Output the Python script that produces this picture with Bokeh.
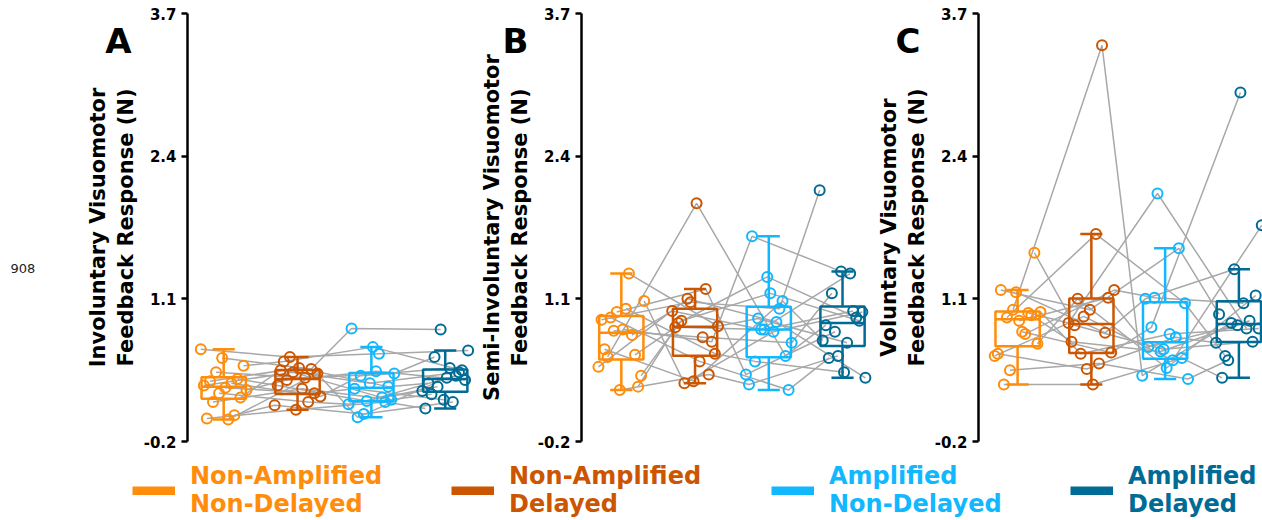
from bokeh.plotting import figure
from bokeh.layouts import column, row
from bokeh.models import Range1d, FixedTicker, Label, Legend, LegendItem
from bokeh.embed import file_html
from bokeh.resources import INLINE
import numpy as np

# ---------------- data ----------------
CONDITIONS = ["Non-Amplified\nNon-Delayed", "Non-Amplified\nDelayed",
              "Amplified\nNon-Delayed", "Amplified\nDelayed"]
COLORS = ["#ff8c0a", "#cc5500", "#12b8ff", "#006b94"]
Y_TICKS = [-0.2, 1.1, 2.4, 3.7]
Y_TICK_LABELS = ["-0.2", "1.1", "2.4", "3.7"]
PANEL_LETTERS = ["A", "B", "C"]
Y_LABELS = ["Involuntary Visuomotor\nFeedback Response (N)",
            "Semi-Involuntary Visuomotor\nFeedback Response (N)",
            "Voluntary Visuomotor\nFeedback Response (N)"]
NOTE_TEXT = "908"

# Panel A (involuntary); each list holds one value per subject, subjects in the same order
inv_nonamp_nondel = [0.64, 0.56, 0.49, 0.43, 0.37, 0.35, 0.33, 0.31, 0.29, 0.27, 0.24, 0.20, 0.16, 0.04, 0.01, 0.00]
inv_nonamp_del    = [0.57, 0.46, 0.53, 0.38, 0.31, 0.47, 0.21, 0.43, 0.24, 0.36, 0.16, 0.45, 0.28, 0.13, 0.09, 0.42]
inv_amp_nondel    = [0.60, 0.83, 0.66, 0.42, 0.17, 0.30, 0.40, 0.20, 0.28, 0.44, 0.14, 0.33, 0.18, 0.05, 0.16, 0.02]
inv_amp_del       = [0.63, 0.82, 0.45, 0.57, 0.40, 0.33, 0.47, 0.26, 0.18, 0.36, 0.30, 0.43, 0.23, 0.16, 0.10, 0.38]

# Panel B (semi-involuntary)
semi_nonamp_nondel = [0.57, 1.33, 0.91, 0.82, 1.08, 0.98, 0.30, 0.93, 0.77, 0.64, 1.01, 0.48, 0.27, 0.40, 0.81, 0.59]
semi_nonamp_del    = [1.97, 0.85, 1.07, 0.71, 0.33, 1.19, 0.88, 0.53, 0.99, 0.35, 0.60, 1.10, 0.41, 0.90, 0.75, 0.84]
semi_amp_nondel    = [0.58, 0.92, 1.01, 1.67, 0.80, 0.41, 1.30, 0.27, 0.82, 1.08, 0.53, 0.89, 0.32, 1.15, 0.70, 0.82]
semi_amp_del       = [0.86, 0.70, 2.09, 1.35, 0.98, 0.80, 0.93, 0.56, 1.33, 0.72, 0.43, 0.38, 0.58, 0.90, 1.15, 0.99]

# Panel C (voluntary)
vol_nonamp_nondel = [1.00, 1.52, 0.93, 0.97, 1.18, 0.80, 0.58, 1.16, 0.69, 0.45, 0.95, 0.32, 0.78, 0.60, 0.90, 0.98]
vol_nonamp_del    = [3.41, 0.86, 1.69, 0.88, 1.00, 0.61, 0.94, 0.79, 1.10, 0.51, 0.71, 0.32, 1.18, 0.46, 1.11, 0.60]
vol_amp_nondel    = [0.40, 0.64, 1.06, 2.06, 1.56, 0.84, 0.54, 1.10, 0.47, 0.37, 0.62, 0.56, 1.11, 0.75, 0.66, 0.78]
vol_amp_del       = [0.88, 0.71, 0.58, 0.83, 0.96, 2.98, 1.77, 1.37, 1.13, 0.54, 0.90, 0.38, 1.06, 0.70, 0.86, 0.83]

PANELS = [
    [inv_nonamp_nondel, inv_nonamp_del, inv_amp_nondel, inv_amp_del],
    [semi_nonamp_nondel, semi_nonamp_del, semi_amp_nondel, semi_amp_del],
    [vol_nonamp_nondel, vol_nonamp_del, vol_amp_nondel, vol_amp_del],
]

# ---------------- layout / style ----------------
FONT = "DejaVu Sans"
GRAY = "#a8a8a8"
BOX_HALF = 0.30
CAP_HALF = 0.15
FIG_H = 450
AXIS_BORDER = 44
# (side figure width, panel figure width, x start, x end)
PANEL_GEOM = [
    (140, 335, -0.49, 3.41),
    (59, 339, -0.54, 3.42),
    (58, 331, -0.53, 3.32),
]
LETTER_RIGHT = [131, 53, 47]          # px inside the side figure
LABEL_CENTER = [111.5, 30.5, 29.5]    # px inside the side figure
LEGEND_X = [132, 451, 771, 1070]


def jitter(i, g, k):
    return (((i * 7 + g * 5 + k * 3) % 16) / 15.0 - 0.5) * 0.62


def make_side(k):
    w = PANEL_GEOM[k][0]
    s = figure(width=w, height=FIG_H, x_range=Range1d(0, w), y_range=Range1d(0, FIG_H),
               output_backend="svg", toolbar_location=None, x_axis_location=None,
               y_axis_location=None, min_border=0, frame_align=False)
    s.outline_line_color = None
    s.grid.visible = False
    s.add_layout(Label(x=LETTER_RIGHT[k], y=FIG_H - 40, x_units="screen", y_units="screen",
                       text=PANEL_LETTERS[k], text_align="right", text_baseline="alphabetic",
                       text_font=FONT, text_font_size="34px", text_font_style="bold",
                       text_color="black"))
    s.add_layout(Label(x=LABEL_CENTER[k], y=FIG_H - 227, x_units="screen", y_units="screen",
                       text=Y_LABELS[k], angle=np.pi / 2, text_align="center",
                       text_baseline="middle", text_font=FONT, text_font_size="21px",
                       text_font_style="bold", text_color="black", text_line_height=1.15))
    return s


def make_panel(k):
    data = PANELS[k]
    _, w, xs, xe = PANEL_GEOM[k]
    p = figure(width=w, height=FIG_H, x_range=Range1d(xs, xe), y_range=Range1d(Y_TICKS[0], Y_TICKS[-1]),
               output_backend="svg", toolbar_location=None, x_axis_location=None,
               min_border_left=AXIS_BORDER, min_border_right=0, min_border_top=13, min_border_bottom=9,
               frame_align=False)
    p.outline_line_color = None
    p.grid.visible = False

    n = len(data[0])
    xs_l, ys_l = [], []
    for i in range(n):
        xs_l.append([g + jitter(i, g, k) for g in range(4)])
        ys_l.append([data[g][i] for g in range(4)])
    p.multi_line(xs_l, ys_l, line_color=GRAY, line_width=1.5)

    for g in range(4):
        vals = np.array(data[g])
        c = COLORS[g]
        q1, med, q3 = np.percentile(vals, [25, 50, 75])
        iqr = q3 - q1
        lo = vals[vals >= q1 - 1.5 * iqr].min()
        hi = vals[vals <= q3 + 1.5 * iqr].max()
        p.quad(left=[g - BOX_HALF], right=[g + BOX_HALF], bottom=[q1], top=[q3],
               fill_color=None, line_color=c, line_width=2.5)
        p.segment(x0=[g - BOX_HALF, g, g, g - CAP_HALF, g - CAP_HALF],
                  x1=[g + BOX_HALF, g, g, g + CAP_HALF, g + CAP_HALF],
                  y0=[med, q3, q1, hi, lo], y1=[med, hi, lo, hi, lo],
                  line_color=c, line_width=2.5)
        p.scatter([g + jitter(i, g, k) for i in range(n)], data[g], marker="circle", size=10,
                  fill_color=None, line_color=c, line_width=2)

    ax = p.yaxis[0]
    ax.ticker = FixedTicker(ticks=Y_TICKS)
    ax.major_label_overrides = dict(zip(Y_TICKS, Y_TICK_LABELS))
    ax.minor_tick_line_color = None
    ax.axis_line_width = 2.5
    ax.axis_line_color = "black"
    ax.major_tick_line_width = 2.5
    ax.major_tick_out = 6
    ax.major_tick_in = 0
    ax.major_label_text_font = FONT
    ax.major_label_text_font_size = "15px"
    ax.major_label_text_font_style = "bold"
    ax.major_label_text_color = "black"
    ax.major_label_standoff = 5
    return p


sA, pA = make_side(0), make_panel(0)
sA.add_layout(Label(x=10, y=FIG_H - 268, x_units="screen", y_units="screen", text=NOTE_TEXT,
                    text_align="left", text_baseline="middle", text_font=FONT,
                    text_font_size="13px", text_color="#222222"))
sB, pB = make_side(1), make_panel(1)
sC, pC = make_side(2), make_panel(2)

lf = figure(width=1262, height=70, output_backend="svg", toolbar_location=None,
            x_range=Range1d(0, 1), y_range=Range1d(0, 1),
            x_axis_location=None, y_axis_location=None, min_border=0, frame_align=False)
lf.outline_line_color = None
lf.grid.visible = False
for g in range(4):
    r = lf.line(x=[0, 1], y=[-5, -5], line_color=COLORS[g], line_width=9)
    leg = Legend(items=[LegendItem(label=CONDITIONS[g], renderers=[r])], location=(LEGEND_X[g], 2),
                 padding=0, margin=0, spacing=0, glyph_width=43, glyph_height=9, label_standoff=15,
                 label_text_font=FONT, label_text_font_size="24px", label_text_font_style="bold",
                 label_text_color=COLORS[g], label_text_line_height=1.1,
                 border_line_color=None, background_fill_alpha=0)
    lf.add_layout(leg)

layout = column(row(sA, pA, sB, pB, sC, pC), lf)
open("out.html", "w").write(file_html(layout, INLINE))
